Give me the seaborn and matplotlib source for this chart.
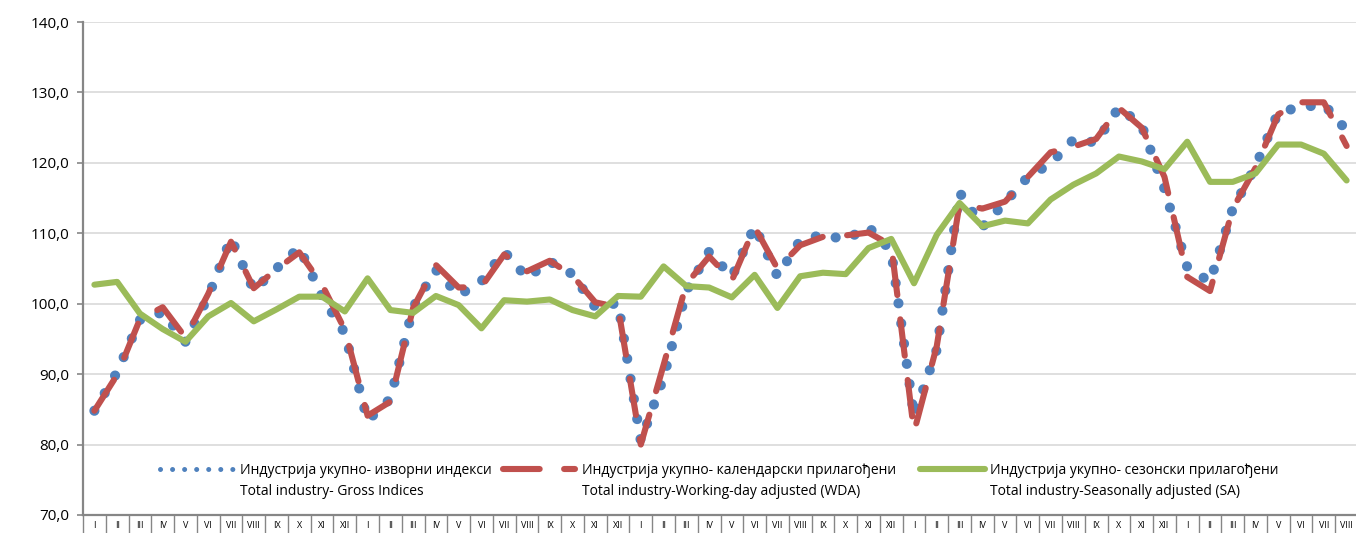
import pandas as pd
import matplotlib
matplotlib.use('Agg')
import matplotlib.pyplot as plt
import seaborn as sns
from matplotlib.ticker import FuncFormatter

# meseci (rimski brojevi) - 4 pune godine + 8 meseci
meseci = ['I', 'II', 'III', 'IV', 'V', 'VI', 'VII', 'VIII', 'IX', 'X', 'XI', 'XII']
oznake = meseci * 4 + meseci[:8]

# izvorni indeksi (gross)
izvorni = [84.8, 90.3, 97.7, 98.8, 94.6, 101.0, 109.3, 101.9, 105.0, 108.0, 101.0, 95.8,
           83.4, 86.5, 99.5, 104.8, 101.2, 103.2, 107.4, 103.7, 106.0, 104.2, 99.5, 100.1,
           80.5, 89.5, 101.8, 107.4, 103.8, 111.0, 103.9, 109.0, 109.8, 109.1, 110.9, 107.5,
           84.0, 93.5, 115.8, 110.9, 114.4, 118.0, 119.9, 123.3, 122.9, 127.9, 125.3, 116.3,
           105.2, 103.1, 113.5, 119.5, 127.2, 127.9, 128.3, 124.6]

# kalendarski prilagodjeni (WDA)
kalendarski = [84.8, 89.9, 97.8, 99.5, 95.2, 101.4, 108.8, 102.2, 104.9, 107.3, 102.7, 96.3,
               84.1, 86.1, 99.4, 105.5, 102.3, 102.4, 107.0, 104.6, 106.1, 104.0, 100.2, 99.5,
               80.0, 91.3, 102.8, 106.7, 103.3, 110.9, 105.0, 108.3, 109.5, 109.7, 110.1, 108.3,
               81.8, 94.0, 114.2, 113.5, 114.5, 118.0, 121.5, 122.3, 123.4, 127.8, 125.0, 118.0,
               103.8, 101.8, 113.5, 119.3, 126.9, 128.6, 128.6, 122.4]

# sezonski prilagodjeni (SA)
sezonski = [102.7, 103.1, 98.6, 96.4, 94.6, 98.2, 100.1, 97.5, 99.2, 101.0, 101.0, 98.9,
            103.6, 99.1, 98.7, 101.1, 99.8, 96.5, 100.5, 100.3, 100.6, 99.1, 98.2, 101.1,
            101.0, 105.3, 102.5, 102.3, 100.9, 104.1, 99.4, 103.9, 104.4, 104.2, 107.9, 109.2,
            102.9, 109.8, 114.3, 111.0, 111.8, 111.4, 114.8, 116.9, 118.5, 120.9, 120.2, 119.1,
            123.0, 117.3, 117.3, 118.5, 122.6, 122.6, 121.3, 117.5]

nazivi_sr = ['Индустрија укупно- изворни индекси',
             'Индустрија укупно- календарски прилагођени',
             'Индустрија укупно- сезонски прилагођени']
nazivi_en = ['Total industry- Gross Indices',
             'Total industry-Working-day adjusted (WDA)',
             'Total industry-Seasonally adjusted (SA)']

df = pd.DataFrame({'mesec': range(len(oznake)),
                   'izvorni': izvorni,
                   'kalendarski': kalendarski,
                   'sezonski': sezonski})

sns.set_theme(style='ticks')
plt.rcParams['font.family'] = ['Open Sans', 'DejaVu Sans']

W, H = 1356, 533
fig = plt.figure(figsize=(W / 100, H / 100), dpi=100)
ax = fig.add_axes([83 / W, 18 / H, 1275 / W, 493 / H])

siva = '#868686'

# serije
sns.lineplot(data=df, x='mesec', y='izvorni', ax=ax, color='#4F81BD', linewidth=7.3,
             linestyle=(0, (0.01, 2.0)), dash_capstyle='round', zorder=3)
sns.lineplot(data=df, x='mesec', y='kalendarski', ax=ax, color='#C0504D', linewidth=4.4,
             linestyle=(0, (6, 4)), dash_capstyle='round', dash_joinstyle='round', zorder=4)
sns.lineplot(data=df, x='mesec', y='sezonski', ax=ax, color='#9BBB59', linewidth=4.4,
             solid_capstyle='round', solid_joinstyle='round', zorder=5)

# ose
ax.set_xlim(-0.5, len(oznake) - 0.5)
ax.set_ylim(70, 140)
ax.set_xlabel('')
ax.set_ylabel('')
ax.set_yticks(range(70, 141, 10))
ax.yaxis.set_major_formatter(FuncFormatter(lambda v, p: f'{v:.1f}'.replace('.', ',')))
ax.yaxis.grid(True, color='#d9d9d9', linewidth=1.2)
ax.set_axisbelow(True)

ax.set_xticks(range(len(oznake)))
ax.set_xticklabels(oznake)
ax.set_xticks([i - 0.5 for i in range(len(oznake) + 1)], minor=True)

for s in ['top', 'right']:
    ax.spines[s].set_visible(False)
for s in ['left', 'bottom']:
    ax.spines[s].set_color(siva)
    ax.spines[s].set_linewidth(1.6)

ax.tick_params(axis='y', which='major', left=True, length=4, width=1.2, color=siva,
               labelsize=11, pad=6, labelcolor='black')
ax.tick_params(axis='x', which='major', bottom=True, length=0, labelsize=6.5, pad=4.5,
               labelcolor='black')
ax.tick_params(axis='x', which='minor', bottom=True, length=20, width=1.0, color=siva,
               direction='out')

# legenda (rucno, dve linije teksta)
def ax_xy(px, py):
    return (px - 83) / 1275, (515 - py) / 493

legenda = [
    (160, 235, 240, dict(color='#4F81BD', linewidth=3.6, linestyle=(0, (0.01, 2.4)),
                         dash_capstyle='round')),
    (503, 575, 582, dict(color='#C0504D', linewidth=4.4, linestyle=(0, (6, 4)),
                         dash_capstyle='round')),
    (920, 985, 990, dict(color='#9BBB59', linewidth=4.4, solid_capstyle='round')),
]
for (x0, x1, xt, stil), sr, en in zip(legenda, nazivi_sr, nazivi_en):
    a0 = ax_xy(x0, 469)
    a1 = ax_xy(x1, 469)
    ax.plot([a0[0], a1[0]], [a0[1], a1[1]], transform=ax.transAxes, clip_on=False,
            zorder=6, **stil)
    t1 = ax_xy(xt, 474)
    t2 = ax_xy(xt, 495)
    ax.text(t1[0], t1[1], sr, transform=ax.transAxes, fontsize=10, va='baseline',
            ha='left', color='black')
    ax.text(t2[0], t2[1], en, transform=ax.transAxes, fontsize=10, va='baseline',
            ha='left', color='black')

fig.savefig('out.png', dpi=100)
